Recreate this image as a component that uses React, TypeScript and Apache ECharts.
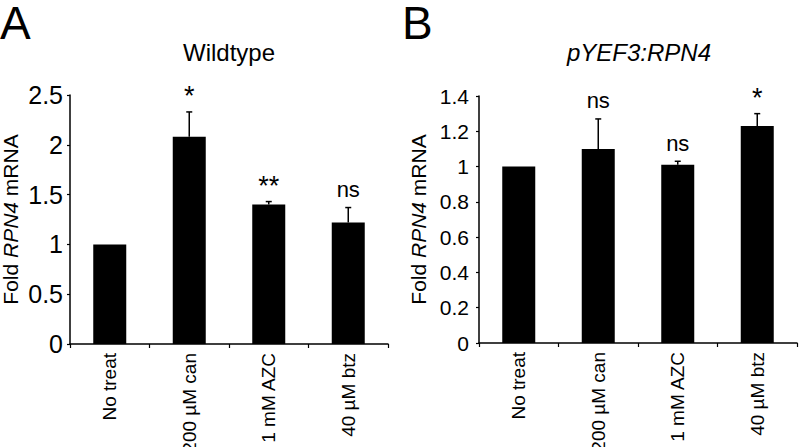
import React, { useEffect, useRef } from "react";
import * as echarts from "echarts";

const categories = ["No treat", "200 µM can", "1 mM AZC", "40 µM btz"];
const wildtypeMeans = [1.0, 2.08, 1.4, 1.22];
const wildtypeErr = [0, 0.25, 0.03, 0.15];
const wildtypeSig = ["", "*", "**", "ns"];
const rpn4Means = [1.0, 1.1, 1.01, 1.23];
const rpn4Err = [0, 0.17, 0.02, 0.07];
const rpn4Sig = ["", "ns", "ns", "*"];

const FONT = '"Liberation Sans", Arial, Helvetica, sans-serif';

function makeRender(means: number[], errs: number[], sig: string[]) {
  return (params: any, api: any) => {
    const i = params.dataIndex;
    const top = means[i] + errs[i];
    const p0 = api.coord([i, means[i]]);
    const p1 = api.coord([i, top]);
    const children: any[] = [];
    if (errs[i] > 0) {
      children.push({
        type: "line",
        shape: { x1: p0[0], y1: p0[1], x2: p1[0], y2: p1[1] },
        style: { stroke: "#000", lineWidth: 1.5 },
      });
      children.push({
        type: "line",
        shape: { x1: p1[0] - 3, y1: p1[1], x2: p1[0] + 3, y2: p1[1] },
        style: { stroke: "#000", lineWidth: 1.5 },
      });
    }
    if (sig[i]) {
      const star = sig[i].indexOf("*") >= 0;
      children.push({
        type: "text",
        x: p1[0],
        y: p1[1] - (star ? 2 : 7),
        style: {
          text: sig[i],
          fill: "#000",
          fontSize: star ? 27 : 22,
          fontFamily: FONT,
          align: "center",
          textAlign: "center",
          verticalAlign: "bottom",
          textVerticalAlign: "bottom",
        },
      });
    }
    return { type: "group", children };
  };
}

export default function App() {
  const ref = useRef<HTMLDivElement>(null);
  useEffect(() => {
    if (!ref.current) return;
    const chart = echarts.init(ref.current, null, { renderer: "svg" });
    const axisLine = { show: true, lineStyle: { color: "#000", width: 1.5 } };
    const xAxisBase = (gridIndex: number) => ({
      type: "category",
      gridIndex,
      data: categories,
      boundaryGap: true,
      axisLine,
      axisTick: { show: true, length: 4, interval: 0, lineStyle: { color: "#000", width: 1.2 } },
      axisLabel: { rotate: 90, fontSize: 19, color: "#000", fontFamily: FONT, margin: 9, interval: 0 },
      splitLine: { show: false },
    });
    const yName = {
      rich: {
        n: { fontSize: 21, fontFamily: FONT, color: "#000" },
        i: { fontSize: 21, fontFamily: FONT, color: "#000", fontStyle: "italic" },
      },
    };
    chart.setOption({
      animation: false,
      backgroundColor: "#fff",
      grid: [
        { left: 70, width: 318, top: 95, height: 249, outerBoundsMode: "none", containLabel: false },
        { left: 479, width: 318, top: 96, height: 247, outerBoundsMode: "none", containLabel: false },
      ],
      xAxis: [xAxisBase(0), xAxisBase(1)],
      yAxis: [
        {
          type: "value",
          gridIndex: 0,
          min: 0,
          max: 2.5,
          interval: 0.5,
          axisLine,
          axisTick: { show: true, length: 3, lineStyle: { color: "#000", width: 1.2 } },
          axisLabel: { fontSize: 25, color: "#000", fontFamily: FONT, margin: 7 },
          splitLine: { show: false },
          name: "{n|Fold }{i|RPN4}{n| mRNA}",
          nameLocation: "middle",
          nameRotate: 90,
          nameGap: 49,
          nameTextStyle: yName,
        },
        {
          type: "value",
          gridIndex: 1,
          min: 0,
          max: 1.4,
          interval: 0.2,
          axisLine,
          axisTick: { show: true, length: 3, lineStyle: { color: "#000", width: 1.2 } },
          axisLabel: { fontSize: 21, color: "#000", fontFamily: FONT, margin: 10 },
          splitLine: { show: false },
          name: "{n|Fold }{i|RPN4}{n| mRNA}",
          nameLocation: "middle",
          nameRotate: 90,
          nameGap: 50,
          nameTextStyle: yName,
        },
      ],
      series: [
        {
          type: "bar",
          xAxisIndex: 0,
          yAxisIndex: 0,
          data: wildtypeMeans,
          barWidth: 33,
          itemStyle: { color: "#000" },
        },
        {
          type: "custom",
          xAxisIndex: 0,
          yAxisIndex: 0,
          data: wildtypeMeans.map((m, i) => [i, m + wildtypeErr[i]]),
          encode: { x: 0, y: 1 },
          renderItem: makeRender(wildtypeMeans, wildtypeErr, wildtypeSig),
          z: 5,
        },
        {
          type: "bar",
          xAxisIndex: 1,
          yAxisIndex: 1,
          data: rpn4Means,
          barWidth: 33,
          itemStyle: { color: "#000" },
        },
        {
          type: "custom",
          xAxisIndex: 1,
          yAxisIndex: 1,
          data: rpn4Means.map((m, i) => [i, m + rpn4Err[i]]),
          encode: { x: 0, y: 1 },
          renderItem: makeRender(rpn4Means, rpn4Err, rpn4Sig),
          z: 5,
        },
      ],
      graphic: [
        {
          type: "text",
          left: 0,
          top: 0,
          style: { text: "A", fontSize: 46, fontFamily: FONT, fill: "#000" },
        },
        {
          type: "text",
          left: 402,
          top: 0,
          style: { text: "B", fontSize: 46, fontFamily: FONT, fill: "#000" },
        },
        {
          type: "text",
          x: 229,
          y: 64,
          style: {
            text: "Wildtype",
            fontSize: 24,
            fontFamily: FONT,
            fill: "#000",
            align: "center",
            verticalAlign: "bottom",
          },
        },
        {
          type: "text",
          x: 639,
          y: 64,
          style: {
            text: "pYEF3:RPN4",
            fontSize: 24,
            fontStyle: "italic",
            fontFamily: FONT,
            fill: "#000",
            align: "center",
            verticalAlign: "bottom",
          },
        },
      ],
    });
    return () => chart.dispose();
  }, []);
  return <div ref={ref} style={{ width: 800, height: 447, position: "absolute", left: 0, top: 0 }} />;
}
